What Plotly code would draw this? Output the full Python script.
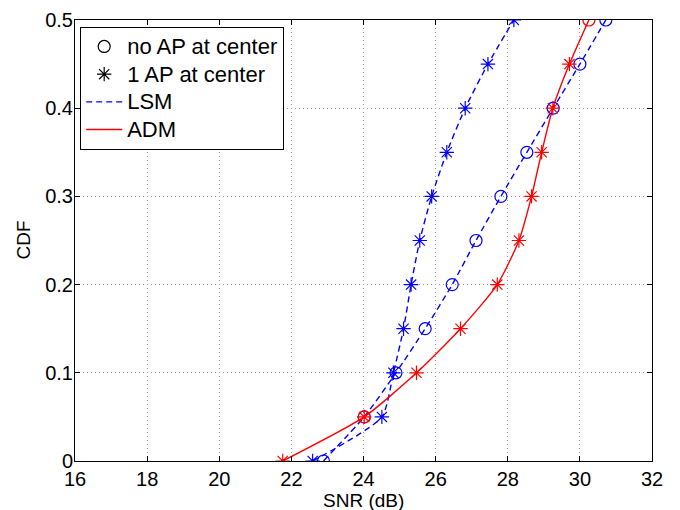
import plotly.graph_objects as go

# CDF levels shared by every curve
cdf = [0.0, 0.05, 0.10, 0.15, 0.20, 0.25, 0.30, 0.35, 0.40, 0.45, 0.50]

# SNR (dB) reached at each CDF level
lsm_no_ap = [22.89, 24.02, 24.90, 25.71, 26.46, 27.12, 27.81, 28.53, 29.26, 30.00, 30.72]
lsm_1_ap = [22.59, 24.51, 24.83, 25.11, 25.32, 25.56, 25.89, 26.31, 26.82, 27.45, 28.17]
adm = [21.76, 24.02, 25.47, 26.69, 27.71, 28.31, 28.66, 28.94, 29.25, 29.71, 30.25]

# ADM points marked as "no AP at center" / "1 AP at center"
adm_circle_idx = [1, 10]
adm_star_idx = [0, 1, 2, 3, 4, 5, 6, 7, 8, 9]

x_ticks = [16, 18, 20, 22, 24, 26, 28, 30, 32]
y_ticks = [0, 0.1, 0.2, 0.3, 0.4, 0.5]

legend_names = ["no AP at center", "1 AP at center", "LSM", "ADM"]

BLUE = "#0000ff"
RED = "#ff0000"
FONT = "Liberation Sans, Arial, Helvetica, sans-serif"
MSIZE = 12
DASH = "6px,4px"


def big(s):
    return f'<span style="font-size:22px">{s}</span>'


fig = go.Figure()

# curves
fig.add_trace(go.Scatter(x=lsm_no_ap, y=cdf, mode="lines", showlegend=False,
                         line=dict(color=BLUE, width=1.4, dash=DASH, shape="spline", smoothing=0.6)))
fig.add_trace(go.Scatter(x=lsm_1_ap, y=cdf, mode="lines", showlegend=False,
                         line=dict(color=BLUE, width=1.4, dash=DASH, shape="spline", smoothing=0.6)))
fig.add_trace(go.Scatter(x=adm, y=cdf, mode="lines", showlegend=False,
                         line=dict(color=RED, width=1.4, shape="spline", smoothing=0.6)))

# markers
fig.add_trace(go.Scatter(x=lsm_no_ap, y=cdf, mode="markers", showlegend=False,
                         marker=dict(symbol="circle-open", size=MSIZE, color=BLUE, line=dict(width=1.2))))
fig.add_trace(go.Scatter(x=lsm_1_ap, y=cdf, mode="markers", showlegend=False,
                         marker=dict(symbol="asterisk-open", size=MSIZE, color=BLUE, line=dict(width=1.2, color=BLUE))))
fig.add_trace(go.Scatter(x=[adm[i] for i in adm_circle_idx], y=[cdf[i] for i in adm_circle_idx],
                         mode="markers", showlegend=False,
                         marker=dict(symbol="circle-open", size=MSIZE, color=RED, line=dict(width=1.2))))
fig.add_trace(go.Scatter(x=[adm[i] for i in adm_star_idx], y=[cdf[i] for i in adm_star_idx],
                         mode="markers", showlegend=False,
                         marker=dict(symbol="asterisk-open", size=MSIZE, color=RED, line=dict(width=1.2, color=RED))))

# legend entries
fig.add_trace(go.Scatter(x=[None], y=[None], mode="markers", name=big(legend_names[0]),
                         marker=dict(symbol="circle-open", size=MSIZE, color="black", line=dict(width=1.2))))
fig.add_trace(go.Scatter(x=[None], y=[None], mode="markers", name=big(legend_names[1]),
                         marker=dict(symbol="asterisk-open", size=MSIZE, color="black", line=dict(width=1.2, color="black"))))
fig.add_trace(go.Scatter(x=[None], y=[None], mode="lines", name=big(legend_names[2]),
                         line=dict(color=BLUE, width=1.4, dash=DASH)))
fig.add_trace(go.Scatter(x=[None], y=[None], mode="lines", name=big(legend_names[3]),
                         line=dict(color=RED, width=1.4)))

axis_common = dict(
    showline=True, linecolor="black", linewidth=1, mirror="ticks",
    ticks="inside", ticklen=5, tickcolor="black", tickwidth=1,
    showgrid=True, gridcolor="#9a9a9a", gridwidth=1, griddash="1px,3px",
    zeroline=False, automargin=False,
    tickfont=dict(family=FONT, size=20, color="black"),
)

fig.update_layout(
    width=680, height=510,
    margin=dict(l=75, r=28, t=20, b=49),
    paper_bgcolor="white", plot_bgcolor="white",
    font=dict(family=FONT, color="black"),
    xaxis=dict(range=[16, 32], tickvals=x_ticks, ticktext=[str(v) for v in x_ticks],
               ticklabelstandoff=0, **axis_common),
    yaxis=dict(range=[0, 0.5], tickvals=y_ticks, ticktext=["0", "0.1", "0.2", "0.3", "0.4", "0.5"],
               ticklabelstandoff=-3, **axis_common),
    legend=dict(x=0.009, y=0.985, xanchor="left", yanchor="top",
                bgcolor="white", bordercolor="black", borderwidth=1,
                font=dict(family=FONT, size=19, color="black"),
                tracegroupgap=0, itemwidth=36),
    annotations=[
        dict(text="SNR (dB)", xref="paper", yref="paper", x=0.5, y=-0.089,
             xanchor="center", yanchor="middle", showarrow=False,
             font=dict(family=FONT, size=19, color="black")),
        dict(text="CDF", xref="paper", yref="paper", x=-0.0901, y=0.5, textangle=-90,
             xanchor="center", yanchor="middle", showarrow=False,
             font=dict(family=FONT, size=19, color="black")),
    ],
)

fig.write_html("out.html")
